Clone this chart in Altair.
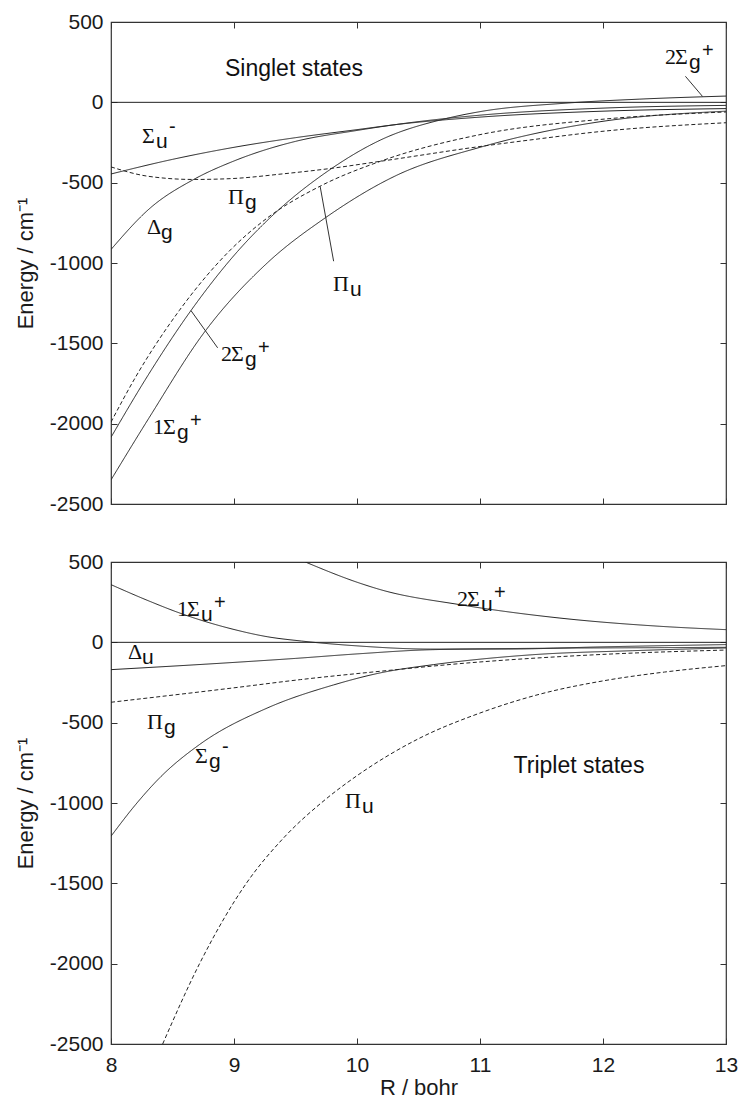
import altair as alt
import pandas as pd

# ---- axes ----
R_MIN, R_MAX = 8, 13
E_MIN, E_MAX = -2500, 500
R_TICKS = [8, 9, 10, 11, 12, 13]
E_TICKS = [-2500, -2000, -1500, -1000, -500, 0, 500]

PLOT_W, PLOT_H = 615, 482

# ---- singlet potential curves (R in bohr, E in cm-1) ----
zero_r = [8.0, 13.0]
zero_e = [0, 0]

s_sigma_u_minus_r = [8.0, 8.5, 9.0, 9.5, 10.0, 10.3, 11.0, 12.0, 13.0]
s_sigma_u_minus_e = [-446, -355, -280, -220, -170, -140, -92, -55, -39]

s_delta_g_r = [8.0, 8.32, 8.67, 9.0, 9.5, 10.0, 10.3, 11.0, 12.0, 13.0]
s_delta_g_e = [-916, -657, -481, -365, -243, -175, -140, -80, -36, -19]

s_2sigma_g_plus_r = [8.0, 8.3, 8.65, 9.03, 9.29, 9.78, 10.19, 10.73, 11.0, 11.7, 12.3, 13.0]
s_2sigma_g_plus_e = [-2085, -1700, -1296, -927, -721, -419, -235, -100, -58, -5, 20, 39]

s_1sigma_g_plus_r = [8.0, 8.31, 8.76, 9.27, 9.74, 10.32, 11.0, 12.0, 13.0]
s_1sigma_g_plus_e = [-2350, -1963, -1430, -1000, -720, -455, -280, -118, -55]

s_pi_u_r = [8.0, 8.2, 8.555, 8.96, 9.27, 9.7, 10.19, 11.0, 12.0, 13.0]
s_pi_u_e = [-1990, -1710, -1296, -927, -720, -522, -367, -201, -105, -60]

s_pi_g_r = [8.0, 8.3, 8.67, 8.97, 9.4, 9.78, 10.19, 11.0, 11.4, 12.0, 13.0]
s_pi_g_e = [-402, -460, -480, -475, -445, -412, -367, -275, -235, -180, -127]

# ---- triplet potential curves ----
t_1sigma_u_plus_r = [8.0, 8.3, 8.56, 9.0, 9.27, 9.55, 10.0, 10.6, 11.2, 12.0, 13.0]
t_1sigma_u_plus_e = [359, 260, 182, 80, 35, 8, -22, -42, -42, -28, -14]

t_2sigma_u_plus_r = [9.58, 10.02, 10.19, 10.84, 11.65, 12.46, 13.0]
t_2sigma_u_plus_e = [500, 369, 328, 234, 151, 100, 79]

t_delta_u_r = [8.0, 9.0, 9.5, 10.0, 10.6, 11.5, 12.5, 13.0]
t_delta_u_e = [-170, -125, -100, -72, -46, -37, -33, -31]

t_pi_g_r = [8.0, 8.99, 9.54, 10.19, 10.89, 12.0, 13.0]
t_pi_g_e = [-373, -284, -232, -180, -129, -75, -48]

t_sigma_g_minus_r = [8.0, 8.2, 8.4, 8.72, 9.27, 9.81, 10.19, 10.62, 11.43, 12.24, 13.0]
t_sigma_g_minus_e = [-1207, -1010, -840, -636, -409, -265, -190, -139, -77, -52, -35]

t_pi_u_r = [8.42, 8.72, 9.1, 9.4, 9.74, 10.0, 10.5, 11.0, 11.5, 12.0, 12.5, 13.0]
t_pi_u_e = [-2500, -2000, -1500, -1220, -980, -830, -600, -440, -320, -240, -185, -145]

# ---- state labels: (prefix, greek letter, subscript, superscript) ----
s_label_text = [("", "Σ", "u", "-"), ("", "Π", "g", ""), ("", "Δ", "g", ""),
                ("", "Π", "u", ""), ("2", "Σ", "g", "+"), ("1", "Σ", "g", "+"),
                ("2", "Σ", "g", "+")]
s_label_r = [8.252, 8.951, 8.293, 9.805, 8.894, 8.341, 12.504]
s_label_e = [-255, -634, -821, -1175, -1611, -2065, 236]

t_label_text = [("1", "Σ", "u", "+"), ("", "Δ", "u", ""), ("", "Π", "g", ""),
                ("", "Σ", "g", "-"), ("", "Π", "u", ""), ("2", "Σ", "u", "+")]
t_label_r = [8.537, 8.138, 8.293, 8.683, 9.902, 10.813]
t_label_e = [162, -106, -541, -752, -1032, 224]

# leader lines from labels to curves
s_pointer_r = [9.70, 8.65, 12.67]
s_pointer_e = [-522, -1296, 162]
s_pointer_r2 = [9.81, 8.867, 12.81]
s_pointer_e2 = [-989, -1528, 36]

LINE_COLOR = "#222222"
SERIF = "Liberation Serif"
SANS = "Liberation Sans"

R_PER_PX = (R_MAX - R_MIN) / PLOT_W
E_PER_PX = (E_MAX - E_MIN) / PLOT_H
SERIF_ADV = {"Σ": 14, "Π": 17, "Δ": 14, "1": 10, "2": 10}
SANS_ADV = {"u": 12, "g": 12}
SUB_DROP = 5
SUP_RISE = {"+": 7, "-": 10}


def curve_table(curves):
    rows = []
    for name, style, rs, es in curves:
        for i, (r, e) in enumerate(zip(rs, es)):
            rows.append({"state": name, "style": style, "R": r, "E": e, "i": i})
    return pd.DataFrame(rows)


def label_tables(texts, rs, es):
    serif, sub, sup = [], [], []
    for (prefix, greek, s, p), r, e in zip(texts, rs, es):
        off = 0
        if prefix:
            serif.append({"R": r, "E": e, "t": prefix})
            off += SERIF_ADV[prefix]
        serif.append({"R": r + off * R_PER_PX, "E": e, "t": greek})
        off += SERIF_ADV[greek]
        sub.append({"R": r + off * R_PER_PX, "E": e - SUB_DROP * E_PER_PX, "t": s})
        off += SANS_ADV[s] + 1
        if p:
            sup.append({"R": r + off * R_PER_PX, "E": e + SUP_RISE[p] * E_PER_PX, "t": p})
    return pd.DataFrame(serif), pd.DataFrame(sub), pd.DataFrame(sup)


x_scale = alt.Scale(domain=[R_MIN, R_MAX], nice=False, zero=False)
y_scale = alt.Scale(domain=[E_MIN, E_MAX], nice=False, zero=False)
PLAIN_NUMBER = "'' + datum.value"


def panel(curves, texts, lr, le, title, title_r, title_e, pointers, bottom):
    df = curve_table(curves)
    x_axis = alt.Axis(values=R_TICKS, tickSize=6, offset=-6, domain=False,
                      labels=bottom, labelFlush=False, labelPadding=10,
                      title="R / bohr" if bottom else None, titlePadding=2,
                      labelExpr=PLAIN_NUMBER)
    y_axis = alt.Axis(values=E_TICKS, tickSize=6, offset=-6, domain=False,
                      labelPadding=8, title="Energy / cm⁻¹", titlePadding=12,
                      labelExpr=PLAIN_NUMBER)
    lines = alt.Chart(df).mark_line(
        clip=True, interpolate="monotone", strokeWidth=1, color=LINE_COLOR
    ).encode(
        x=alt.X("R:Q", scale=x_scale, axis=x_axis),
        y=alt.Y("E:Q", scale=y_scale, axis=y_axis),
        detail="state:N",
        order="i:Q",
        strokeDash=alt.StrokeDash("style:N", legend=None,
                                  scale=alt.Scale(domain=["solid", "dashed"],
                                                  range=[[1, 0], [4, 2.5]])),
    )

    serif_df, sub_df, sup_df = label_tables(texts, lr, le)
    greek = alt.Chart(serif_df).mark_text(
        align="left", baseline="alphabetic", font=SERIF, fontSize=22, color="#111"
    ).encode(x=alt.X("R:Q", scale=x_scale), y=alt.Y("E:Q", scale=y_scale), text="t:N")
    subs = alt.Chart(sub_df).mark_text(
        align="left", baseline="alphabetic", font=SANS, fontSize=21, color="#111"
    ).encode(x=alt.X("R:Q", scale=x_scale), y=alt.Y("E:Q", scale=y_scale), text="t:N")
    sups = alt.Chart(sup_df).mark_text(
        align="left", baseline="alphabetic", font=SANS, fontSize=20, color="#111"
    ).encode(x=alt.X("R:Q", scale=x_scale), y=alt.Y("E:Q", scale=y_scale), text="t:N")

    heading = alt.Chart(pd.DataFrame({"R": [title_r], "E": [title_e], "t": [title]})).mark_text(
        align="center", baseline="alphabetic", font=SANS, fontSize=23, color="#111"
    ).encode(x=alt.X("R:Q", scale=x_scale), y=alt.Y("E:Q", scale=y_scale), text="t:N")

    main = [lines, greek, subs, sups, heading]
    if pointers is not None:
        pr, pe, pr2, pe2 = pointers
        pdf = pd.DataFrame({"R": pr, "E": pe, "R2": pr2, "E2": pe2})
        main.append(alt.Chart(pdf).mark_rule(strokeWidth=1, color="#333").encode(
            x=alt.X("R:Q", scale=x_scale), y=alt.Y("E:Q", scale=y_scale),
            x2="R2:Q", y2="E2:Q"))

    base = alt.layer(*main)

    # zero line, carrying the top and right tick marks
    zdf = pd.DataFrame({"R": zero_r, "E": zero_e})
    zero = alt.Chart(zdf).mark_line(strokeWidth=1, color=LINE_COLOR).encode(
        x=alt.X("R:Q", scale=x_scale,
                axis=alt.Axis(orient="top", values=R_TICKS, tickSize=6, offset=-6,
                              domain=False, labels=False, title=None)),
        y=alt.Y("E:Q", scale=y_scale,
                axis=alt.Axis(orient="right", values=E_TICKS, tickSize=6, offset=-6,
                              domain=False, labels=False, title=None)),
    )
    return alt.layer(base, zero).resolve_scale(x="independent", y="independent").properties(
        width=PLOT_W, height=PLOT_H)


singlet = panel(
    [("Σu-", "solid", s_sigma_u_minus_r, s_sigma_u_minus_e),
     ("Δg", "solid", s_delta_g_r, s_delta_g_e),
     ("2Σg+", "solid", s_2sigma_g_plus_r, s_2sigma_g_plus_e),
     ("1Σg+", "solid", s_1sigma_g_plus_r, s_1sigma_g_plus_e),
     ("Πu", "dashed", s_pi_u_r, s_pi_u_e),
     ("Πg", "dashed", s_pi_g_r, s_pi_g_e)],
    s_label_text, s_label_r, s_label_e,
    "Singlet states", 9.488, 162,
    (s_pointer_r, s_pointer_e, s_pointer_r2, s_pointer_e2),
    bottom=False,
)

triplet = panel(
    [("1Σu+", "solid", t_1sigma_u_plus_r, t_1sigma_u_plus_e),
     ("2Σu+", "solid", t_2sigma_u_plus_r, t_2sigma_u_plus_e),
     ("Δu", "solid", t_delta_u_r, t_delta_u_e),
     ("Σg-", "solid", t_sigma_g_minus_r, t_sigma_g_minus_e),
     ("Πg", "dashed", t_pi_g_r, t_pi_g_e),
     ("Πu", "dashed", t_pi_u_r, t_pi_u_e)],
    t_label_text, t_label_r, t_label_e,
    "Triplet states", 11.805, -815,
    None,
    bottom=True,
)

chart = alt.vconcat(singlet, triplet, spacing=58, bounds="flush").properties(
    padding={"left": 13, "top": 10, "right": 2, "bottom": 0}
).configure_view(
    stroke="#333333", strokeWidth=1.2
).configure_axis(
    grid=False, tickColor="#333333", tickWidth=1,
    labelFont=SANS, labelFontSize=21, labelColor="#1a1a1a",
    titleFont=SANS, titleFontSize=22, titleFontWeight="normal", titleColor="#1a1a1a",
)

chart.save("out.html", embed_options={"renderer": "svg", "actions": False})
